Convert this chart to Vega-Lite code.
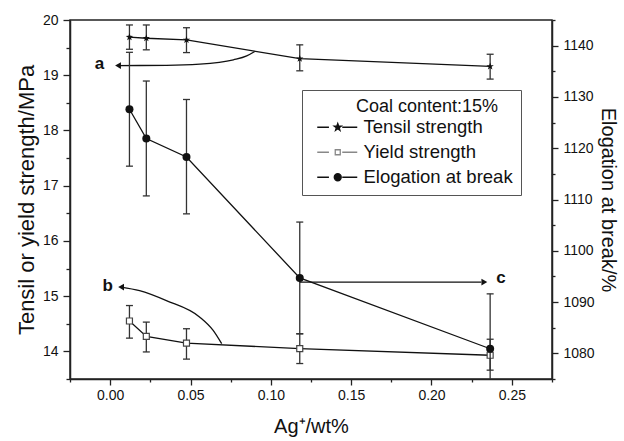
{
  "$schema": "https://vega.github.io/schema/vega-lite/v6.json",
  "width": 482,
  "height": 359,
  "autosize": "none",
  "padding": {"left": 70, "top": 20, "right": 72, "bottom": 62},
  "background": "white",
  "config": {
    "font": "Liberation Sans",
    "view": {"stroke": "#222", "strokeWidth": 1.5},
    "axis": {
      "domainColor": "#222", "domainWidth": 1.5, "tickColor": "#222", "tickWidth": 1.3,
      "labelFontSize": 14, "labelColor": "#111", "titleFontSize": 22, "titleFontWeight": "normal",
      "titleColor": "#111", "grid": false, "labelOverlap": false, "labelFlush": false
    }
  },
  "datasets": {
    "main": [
      {"series": "Tensil strength", "x": 0.012, "value": 19.69, "lo": 19.47, "hi": 19.91},
      {"series": "Tensil strength", "x": 0.0225, "value": 19.67, "lo": 19.46, "hi": 19.91},
      {"series": "Tensil strength", "x": 0.0475, "value": 19.64, "lo": 19.41, "hi": 19.86},
      {"series": "Tensil strength", "x": 0.118, "value": 19.30, "lo": 19.08, "hi": 19.55},
      {"series": "Tensil strength", "x": 0.2365, "value": 19.16, "lo": 18.93, "hi": 19.38},
      {"series": "Yield strength", "x": 0.012, "value": 14.55, "lo": 14.24, "hi": 14.83},
      {"series": "Yield strength", "x": 0.0225, "value": 14.27, "lo": 13.99, "hi": 14.53},
      {"series": "Yield strength", "x": 0.0475, "value": 14.15, "lo": 13.86, "hi": 14.41},
      {"series": "Yield strength", "x": 0.118, "value": 14.05, "lo": 13.78, "hi": 14.32},
      {"series": "Yield strength", "x": 0.2365, "value": 13.93, "lo": 13.66, "hi": 14.22},
      {"series": "Elogation at break", "x": 0.012, "value": 1127.6, "lo": 1116.5, "hi": 1138.7},
      {"series": "Elogation at break", "x": 0.0225, "value": 1121.9, "lo": 1110.7, "hi": 1133.1},
      {"series": "Elogation at break", "x": 0.0475, "value": 1118.3, "lo": 1107.2, "hi": 1129.5},
      {"series": "Elogation at break", "x": 0.118, "value": 1094.7, "lo": 1083.8, "hi": 1105.6},
      {"series": "Elogation at break", "x": 0.2365, "value": 1080.9, "lo": 1070.2, "hi": 1091.6}
    ],
    "curves": [
      {"arrow": "a", "x": 0.090, "y": 19.43},
      {"arrow": "a", "x": 0.085, "y": 19.35},
      {"arrow": "a", "x": 0.0767, "y": 19.28},
      {"arrow": "a", "x": 0.0558, "y": 19.20},
      {"arrow": "a", "x": 0.035, "y": 19.178},
      {"arrow": "a", "x": 0.005, "y": 19.175},
      {"arrow": "b", "x": 0.0694, "y": 14.14},
      {"arrow": "b", "x": 0.0641, "y": 14.38},
      {"arrow": "b", "x": 0.0558, "y": 14.62},
      {"arrow": "b", "x": 0.035, "y": 14.92},
      {"arrow": "b", "x": 0.0183, "y": 15.10},
      {"arrow": "b", "x": 0.0068, "y": 15.165}
    ]
  },
  "encoding": {
    "x": {
      "field": "x", "type": "quantitative",
      "scale": {"domain": [-0.025, 0.275], "nice": false, "zero": false},
      "axis": {
        "title": "Ag⁺/wt%",
        "titleFontSize": 20,
        "values": [-0.025, 0, 0.025, 0.05, 0.075, 0.1, 0.125, 0.15, 0.175, 0.2, 0.225, 0.25, 0.275],
        "labelExpr": "abs(datum.value*20-round(datum.value*20))<1e-6 ? format(datum.value,'.2f') : ''",
        "tickSize": {"condition": {"test": "abs(datum.value*20-round(datum.value*20))<1e-6", "value": 6}, "value": 3},
        "labelPadding": 3,
        "titlePadding": 14
      }
    }
  },
  "layer": [
    {
      "data": {"name": "main"},
      "resolve": {"axis": {"y": "independent"}},
      "layer": [
        {
          "data": {"values": [{}]},
          "mark": {"type": "rect", "color": "#111"},
          "encoding": {
            "x": {"datum": 0.122}, "x2": {"datum": 0.2625},
            "y": {"datum": 18.64, "type": "quantitative", "scale": {"domain": [13.5, 20], "nice": false}, "axis": null},
            "y2": {"datum": 16.80}
          }
        },
        {
          "transform": [{"filter": "datum.series !== 'Elogation at break'"}],
          "mark": {"type": "rule", "color": "#333", "strokeWidth": 1.3},
          "encoding": {
            "y": {
              "field": "lo", "type": "quantitative", "scale": {"domain": [13.5, 20], "nice": false},
              "axis": {"orient": "left", "title": null, "values": [13.5, 14.5, 15.5, 16.5, 17.5, 18.5, 19.5], "labels": false, "domain": false, "tickSize": 4}
            },
            "y2": {"field": "hi"}
          }
        },
        {
          "transform": [{"filter": "datum.series !== 'Elogation at break'"}, {"fold": ["lo", "hi"], "as": ["capkey", "capval"]}],
          "mark": {"type": "rule", "color": "#333", "strokeWidth": 1.3, "xOffset": -3.5, "x2Offset": 3.5},
          "encoding": {
            "x2": {"field": "x"},
            "y": {"field": "capval", "type": "quantitative", "scale": {"domain": [13.5, 20], "nice": false}, "axis": null}
          }
        },
        {
          "transform": [{"filter": "datum.series !== 'Elogation at break'"}],
          "mark": {"type": "line", "color": "#111", "strokeWidth": 1.3},
          "encoding": {
            "y": {
              "field": "value", "type": "quantitative",
              "scale": {"domain": [13.5, 20], "nice": false},
              "axis": {
                "orient": "left",
                "title": "Tensil or yield strength/MPa",
                "values": [14, 15, 16, 17, 18, 19, 20],
                "format": "d",
                "tickSize": 7,
                "labelPadding": 5,
                "titlePadding": 4
              }
            },
            "detail": {"field": "series"}
          }
        },
        {
          "transform": [{"filter": "datum.series === 'Tensil strength'"}],
          "mark": {"type": "point", "shape": "M0,-1L0.235,-0.324L0.951,-0.309L0.380,0.124L0.588,0.809L0,0.4L-0.588,0.809L-0.380,0.124L-0.951,-0.309L-0.235,-0.324Z", "filled": true, "color": "#111", "size": 60, "opacity": 1},
          "encoding": {"y": {"field": "value", "type": "quantitative", "scale": {"domain": [13.5, 20], "nice": false}, "axis": null}}
        },
        {
          "transform": [{"filter": "datum.series === 'Yield strength'"}],
          "mark": {"type": "point", "shape": "square", "filled": true, "fill": "white", "stroke": "#444", "strokeWidth": 1.2, "size": 36, "opacity": 1},
          "encoding": {"y": {"field": "value", "type": "quantitative", "scale": {"domain": [13.5, 20], "nice": false}, "axis": null}}
        },
        {
          "data": {"name": "curves"},
          "mark": {"type": "line", "interpolate": "monotone", "color": "#111", "strokeWidth": 1.3},
          "encoding": {
            "y": {"field": "y", "type": "quantitative", "scale": {"domain": [13.5, 20], "nice": false}, "axis": null},
            "detail": {"field": "arrow"}
          }
        },
        {
          "data": {"values": [{"arrow": "a", "x": 0.0049, "y": 19.175}, {"arrow": "b", "x": 0.0068, "y": 15.165}]},
          "mark": {"type": "point", "shape": "triangle-left", "filled": true, "color": "#111", "size": 45, "opacity": 1},
          "encoding": {"y": {"field": "y", "type": "quantitative", "scale": {"domain": [13.5, 20], "nice": false}, "axis": null}}
        },
        {
          "data": {"values": [{"label": "a", "x": -0.0067, "y": 19.21}, {"label": "b", "x": -0.0015, "y": 15.19}]},
          "mark": {"type": "text", "fontSize": 17, "fontWeight": "bold", "color": "#111", "align": "center", "baseline": "middle"},
          "encoding": {
            "y": {"field": "y", "type": "quantitative", "scale": {"domain": [13.5, 20], "nice": false}, "axis": null},
            "text": {"field": "label"}
          }
        },
        {
          "transform": [{"filter": "datum.series !== 'Elogation at break'"}],
          "mark": {"type": "point", "filled": true, "opacity": 0, "strokeWidth": 1.3},
          "encoding": {
            "y": {"field": "value", "type": "quantitative", "scale": {"domain": [13.5, 20], "nice": false}, "axis": null},
            "shape": {
              "field": "series", "type": "nominal",
              "scale": {
                "domain": ["Tensil strength", "Yield strength", "Elogation at break"],
                "range": [
                  "M-3.2,0H-0.86M1.8,0H4.8M0.9,-0.75L1.076,-0.243L1.613,-0.232L1.185,0.093L1.341,0.607L0.9,0.3L0.459,0.607L0.615,0.093L0.187,-0.232L0.724,-0.243Z",
                  "M-3.2,0H-0.86M1.8,0H4.8M0.4,-0.5H1.4V0.5H0.4Z",
                  "M-3.2,0H-0.86M1.8,0H4.8M0.2,0A0.7,0.7,0,1,0,1.6,0A0.7,0.7,0,1,0,0.2,0Z"
                ]
              },
              "legend": {"title": "Coal content:15%\u00a0\u00a0\u00a0\u200b", "orient": "none", "legendX": 232, "legendY": 70, "padding": 8, "fillColor": "white", "strokeColor": "#555", "titleFontSize": 18, "titleFontWeight": "normal", "titleColor": "#111", "titleAnchor": "end", "titlePadding": 2, "labelFontSize": 18.5, "labelColor": "#111", "labelOffset": 21, "symbolSize": 100, "symbolOffset": 14, "symbolStrokeWidth": 1.3, "rowPadding": 6, "symbolOpacity": 1}
            },
            "fill": {
              "field": "series", "type": "nominal",
              "scale": {"domain": ["Tensil strength", "Yield strength", "Elogation at break"], "range": ["#111", "white", "#111"]},
              "legend": {"title": "Coal content:15%\u00a0\u00a0\u00a0\u200b", "orient": "none", "legendX": 232, "legendY": 70, "padding": 8, "fillColor": "white", "strokeColor": "#555", "titleFontSize": 18, "titleFontWeight": "normal", "titleColor": "#111", "titleAnchor": "end", "titlePadding": 2, "labelFontSize": 18.5, "labelColor": "#111", "labelOffset": 21, "symbolSize": 100, "symbolOffset": 14, "symbolStrokeWidth": 1.3, "rowPadding": 6, "symbolOpacity": 1}
            },
            "stroke": {
              "field": "series", "type": "nominal",
              "scale": {"domain": ["Tensil strength", "Yield strength", "Elogation at break"], "range": ["#111", "#888", "#111"]},
              "legend": {"title": "Coal content:15%\u00a0\u00a0\u00a0\u200b", "orient": "none", "legendX": 232, "legendY": 70, "padding": 8, "fillColor": "white", "strokeColor": "#555", "titleFontSize": 18, "titleFontWeight": "normal", "titleColor": "#111", "titleAnchor": "end", "titlePadding": 2, "labelFontSize": 18.5, "labelColor": "#111", "labelOffset": 21, "symbolSize": 100, "symbolOffset": 14, "symbolStrokeWidth": 1.3, "rowPadding": 6, "symbolOpacity": 1}
            }
          }
        }
      ]
    },
    {
      "data": {"name": "main"},
      "resolve": {"axis": {"y": "independent"}},
      "layer": [
        {
          "transform": [{"filter": "datum.series === 'Elogation at break'"}],
          "mark": {"type": "rule", "color": "#333", "strokeWidth": 1.3, "clip": true},
          "encoding": {
            "y": {
              "field": "lo", "type": "quantitative", "scale": {"domain": [1075, 1145], "nice": false},
              "axis": {"orient": "right", "title": null, "values": [1075, 1085, 1095, 1105, 1115, 1125, 1135, 1145], "labels": false, "domain": false, "tickSize": 3}
            },
            "y2": {"field": "hi"}
          }
        },
        {
          "transform": [{"filter": "datum.series === 'Elogation at break'"}, {"fold": ["lo", "hi"], "as": ["capkey", "capval"]}],
          "mark": {"type": "rule", "color": "#333", "strokeWidth": 1.3, "xOffset": -3.5, "x2Offset": 3.5, "clip": true},
          "encoding": {
            "x2": {"field": "x"},
            "y": {"field": "capval", "type": "quantitative", "scale": {"domain": [1075, 1145], "nice": false}, "axis": null}
          }
        },
        {
          "transform": [{"filter": "datum.series === 'Elogation at break'"}],
          "mark": {"type": "line", "color": "#111", "strokeWidth": 1.3},
          "encoding": {
            "y": {
              "field": "value", "type": "quantitative",
              "scale": {"domain": [1075, 1145], "nice": false},
              "axis": {
                "orient": "right",
                "title": "Elogation at break/%",
                "titleFontSize": 20,
                "values": [1080, 1090, 1100, 1110, 1120, 1130, 1140],
                "format": "d",
                "tickSize": 6,
                "labelPadding": 5,
                "titlePadding": 3
              }
            }
          }
        },
        {
          "transform": [{"filter": "datum.series === 'Elogation at break'"}],
          "mark": {"type": "point", "shape": "circle", "filled": true, "color": "#111", "size": 64, "opacity": 1},
          "encoding": {"y": {"field": "value", "type": "quantitative", "scale": {"domain": [1075, 1145], "nice": false}, "axis": null}}
        },
        {
          "data": {"values": [{"x": 0.118, "x2": 0.231, "y": 1093.9}]},
          "mark": {"type": "rule", "color": "#111", "strokeWidth": 1.3},
          "encoding": {
            "x2": {"field": "x2"},
            "y": {"field": "y", "type": "quantitative", "scale": {"domain": [1075, 1145], "nice": false}, "axis": null}
          }
        },
        {
          "data": {"values": [{"x": 0.2329, "y": 1093.9}]},
          "mark": {"type": "point", "shape": "triangle-right", "filled": true, "color": "#111", "size": 45, "opacity": 1},
          "encoding": {"y": {"field": "y", "type": "quantitative", "scale": {"domain": [1075, 1145], "nice": false}, "axis": null}}
        },
        {
          "data": {"values": [{"label": "c", "x": 0.2433, "y": 1094.6}]},
          "mark": {"type": "text", "fontSize": 17, "fontWeight": "bold", "color": "#111", "align": "center", "baseline": "middle"},
          "encoding": {
            "y": {"field": "y", "type": "quantitative", "scale": {"domain": [1075, 1145], "nice": false}, "axis": null},
            "text": {"field": "label"}
          }
        }
      ]
    }
  ],
  "resolve": {"scale": {"y": "independent"}}
}
